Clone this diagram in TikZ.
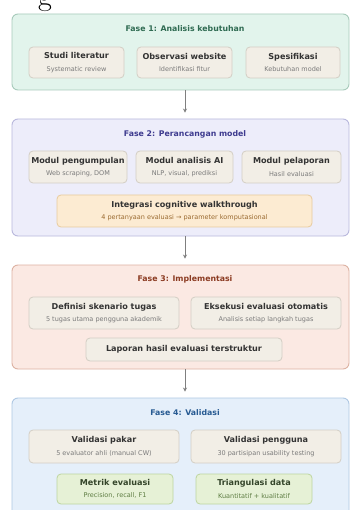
\documentclass[tikz,border=0pt]{standalone}
\usepackage{fontspec}
\newfontfamily\dv{DejaVu Sans}
\usetikzlibrary{arrows.meta}
\definecolor{fAfill}{HTML}{E2F4EC}\definecolor{fAdraw}{HTML}{A8CBBB}\definecolor{fAtext}{HTML}{2F6B52}
\definecolor{fBfill}{HTML}{EDEDFA}\definecolor{fBdraw}{HTML}{B9B8DD}\definecolor{fBtext}{HTML}{3E3B8F}
\definecolor{fCfill}{HTML}{FBE9E3}\definecolor{fCdraw}{HTML}{DDB2A3}\definecolor{fCtext}{HTML}{8B3B22}
\definecolor{fDfill}{HTML}{E5EFFA}\definecolor{fDdraw}{HTML}{AFC8E3}\definecolor{fDtext}{HTML}{275A92}
\definecolor{subfill}{HTML}{F2EEE6}\definecolor{subdraw}{HTML}{D3CEC4}
\definecolor{maintext}{HTML}{333333}\definecolor{subtext}{HTML}{7A7A7A}
\definecolor{orfill}{HTML}{FCEBD2}\definecolor{ordraw}{HTML}{E8CB9E}\definecolor{ortext}{HTML}{9A6A30}
\definecolor{grfill}{HTML}{E6F1D6}\definecolor{grdraw}{HTML}{BDD5A0}\definecolor{grtext}{HTML}{5E7D43}\definecolor{grtitle}{HTML}{34452A}
\definecolor{arrowc}{HTML}{7F7F7F}
\newcommand{\bx}[2]{{\fontsize{8.1}{9}\selectfont\bfseries #1}\\[0.5pt]{\fontsize{6.5}{7.5}\selectfont\color{subtext}#2}}
\newcommand{\gx}[2]{{\fontsize{8.1}{9}\selectfont\bfseries\color{grtitle}#1}\\[0.5pt]{\fontsize{6.5}{7.5}\selectfont\color{grtext}#2}}
\newcommand{\ox}[2]{{\fontsize{8.1}{9}\selectfont\bfseries #1}\\[0.5pt]{\fontsize{6.5}{7.5}\selectfont\color{ortext}#2}}
\tikzset{
  frame/.style={draw=#1draw, fill=#1fill, line width=0.9pt, rounded corners=6pt},
  ftitle/.style={font=\dv\fontsize{7.8}{9}\selectfont\bfseries, text=#1text},
  subbox/.style={draw=subdraw, fill=subfill, line width=0.8pt, rounded corners=4pt, align=center, font=\dv, text=maintext, inner sep=0pt},
  orbox/.style={draw=ordraw, fill=orfill, line width=0.8pt, rounded corners=4pt, align=center, font=\dv, text=maintext, inner sep=0pt},
  grbox/.style={draw=grdraw, fill=grfill, line width=0.8pt, rounded corners=4pt, align=center, font=\dv, inner sep=0pt},
  flowarrow/.style={draw=arrowc, line width=1pt, -{Stealth[length=4pt,width=4pt]}, shorten >=6pt}
}
\begin{document}
\begin{tikzpicture}[x=1pt,y=-1pt]
\useasboundingbox (0,0) rectangle (351,510);
\clip (0,0) rectangle (351,510);
\fill[white] (0,0) rectangle (351,510);
% cropped heading letter
\node[anchor=base, inner sep=0pt, font=\fontsize{30}{30}\selectfont] (glet) at (45,6) {g};
% frames
\node[frame=fA, minimum width=337pt, minimum height=76pt, inner sep=0pt] (f1) at (180.5,52) {};
\node[frame=fB, minimum width=337pt, minimum height=117pt, inner sep=0pt] (f2) at (180.5,177.5) {};
\node[frame=fC, minimum width=337pt, minimum height=104pt, inner sep=0pt] (f3) at (180.5,317) {};
\node[frame=fD, minimum width=337pt, minimum height=130pt, inner sep=0pt] (f4) at (180.5,463) {};
% titles
\node[ftitle=fA] (t1) at (185,29) {Fase 1: Analisis kebutuhan};
\node[ftitle=fB] (t2) at (185,134) {Fase 2: Perancangan model};
\node[ftitle=fC] (t3) at (185,279) {Fase 3: Implementasi};
\node[ftitle=fD] (t4) at (185,413) {Fase 4: Validasi};
% phase 1
\node[subbox, minimum width=95pt, minimum height=31pt] (a1) at (76.5,62.5) {\bx{Studi literatur}{Systematic review}};
\node[subbox, minimum width=95pt, minimum height=31pt] (a2) at (184.5,62.5) {\bx{Observasi website}{Identifikasi fitur}};
\node[subbox, minimum width=94pt, minimum height=31pt] (a3) at (293,62.5) {\bx{Spesifikasi}{Kebutuhan model}};
% phase 2
\node[subbox, minimum width=98pt, minimum height=32pt] (b1) at (78,167) {\bx{Modul pengumpulan}{Web scraping, DOM}};
\node[subbox, minimum width=97pt, minimum height=32pt] (b2) at (184.5,167) {\bx{Modul analisis AI}{NLP, visual, prediksi}};
\node[subbox, minimum width=99pt, minimum height=32pt] (b3) at (291.5,167) {\bx{Modul pelaporan}{Hasil evaluasi}};
\node[orbox, minimum width=255pt, minimum height=32pt] (b4) at (184.5,211) {\ox{Integrasi cognitive walkthrough}{4 pertanyaan evaluasi → parameter komputasional}};
% phase 3
\node[subbox, minimum width=150pt, minimum height=32pt] (c1) at (104,313) {\bx{Definisi skenario tugas}{5 tugas utama pengguna akademik}};
\node[subbox, minimum width=150pt, minimum height=32pt] (c2) at (266,313) {\bx{Eksekusi evaluasi otomatis}{Analisis setiap langkah tugas}};
\node[subbox, minimum width=196pt, minimum height=23pt] (c3) at (184,349.5) {{\fontsize{8.1}{9}\selectfont\bfseries Laporan hasil evaluasi terstruktur}};
% phase 4
\node[subbox, minimum width=150pt, minimum height=33pt] (d1) at (104,446.5) {\bx{Validasi pakar}{5 evaluator ahli (manual CW)}};
\node[subbox, minimum width=150pt, minimum height=33pt] (d2) at (266,446.5) {\bx{Validasi pengguna}{30 partisipan usability testing}};
\node[grbox, minimum width=116pt, minimum height=30pt] (d3) at (115,489) {\gx{Metrik evaluasi}{Precision, recall, F1}};
\node[grbox, minimum width=116pt, minimum height=30pt] (d4) at (254,489) {\gx{Triangulasi data}{Kuantitatif + kualitatif}};
% arrows
\draw[flowarrow] (f1.south -| t1.south) -- (f2.north -| t1.south);
\draw[flowarrow] (f2.south -| t1.south) -- (f3.north -| t1.south);
\draw[flowarrow] (f3.south -| t1.south) -- (f4.north -| t1.south);
\end{tikzpicture}
\end{document}
